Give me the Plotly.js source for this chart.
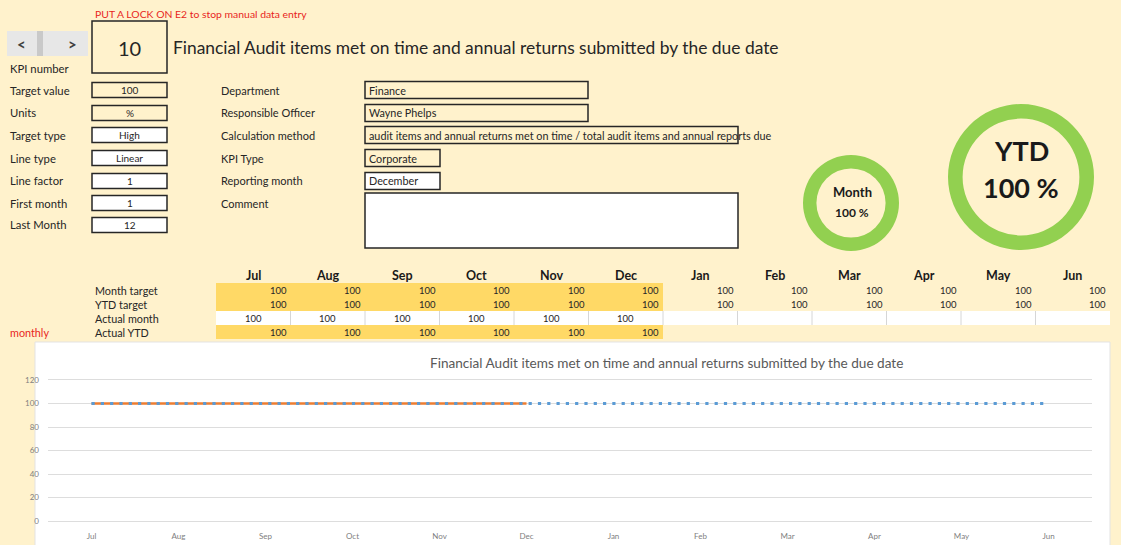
<!DOCTYPE html>
<html lang="en">

<head>
    <meta charset="UTF-8">
    <title>KPI 10 - Financial Audit</title>
    <script src="https://cdn.plot.ly/plotly-3.0.1.min.js" charset="utf-8"></script>
    <style>
        body { margin: 0; background: #FFF2CC; }
    </style>
</head>

<body>
    <div id="plot" style="width: 1121px; height: 545px;"></div>

    <script>
        // sheet data
        const months = ['Jul', 'Aug', 'Sep', 'Oct', 'Nov', 'Dec', 'Jan', 'Feb', 'Mar', 'Apr', 'May', 'Jun'];
        const monthTarget = [100, 100, 100, 100, 100, 100, 100, 100, 100, 100, 100, 100];
        const ytdTarget = [100, 100, 100, 100, 100, 100, 100, 100, 100, 100, 100, 100];
        const actualMonth = [100, 100, 100, 100, 100, 100];
        const actualYtd = [100, 100, 100, 100, 100, 100];

        const kpiNumber = 10;
        const kpiTitle = 'Financial Audit items met on time and annual returns submitted by the due date';
        const fieldLabels = ['Target value', 'Units', 'Target type', 'Line type', 'Line factor', 'First month', 'Last Month'];
        const fieldValues = ['100', '%', 'High', 'Linear', '1', '1', '12'];
        const infoLabels = ['Department', 'Responsible Officer', 'Calculation method', 'KPI Type', 'Reporting month', 'Comment'];
        const infoValues = ['Finance', 'Wayne Phelps',
            'audit items and annual returns met on time / total audit items and annual reports due',
            'Corporate', 'December', ''];
        const monthPct = 100;
        const ytdPct = 100;

        // page is laid out in pixels, converted to paper fractions
        const W = 1121, H = 545;
        const px = x => x / W;
        const py = y => 1 - y / H;
        const FONT = 'Lato, "Open Sans", sans-serif';
        const CREAM = '#FFF2CC';
        const GOLD = '#FFD966';

        const shapes = [];
        const annotations = [];

        function rect(x0, y0, x1, y1, fill, line, lw) {
            shapes.push({
                type: 'rect', xref: 'paper', yref: 'paper', layer: 'below',
                x0: px(x0), x1: px(x1), y0: py(y1), y1: py(y0),
                fillcolor: fill, line: { color: line || 'rgba(0,0,0,0)', width: lw || 0 }
            });
        }

        function text(x, y, t, size, opts) {
            opts = opts || {};
            annotations.push({
                xref: 'paper', yref: 'paper', x: px(x), y: py(y), text: t,
                showarrow: false, xanchor: opts.anchor || 'left', yanchor: 'middle',
                font: { family: FONT, size: size, color: opts.color || '#262626' }
            });
        }

        // header
        text(93, 14, 'PUT A LOCK ON E2 to stop manual data entry', 10.4, { color: '#E8261C' });
        rect(7, 31, 88, 56, '#E7E7E7');
        rect(37, 31, 43, 56, '#C9C9C9');
        text(21, 44, '<b><</b>', 15, { anchor: 'center', color: '#404040' });
        text(72, 44, '<b>></b>', 15, { anchor: 'center', color: '#404040' });
        text(8, 68, 'KPI number', 11.3);
        rect(92, 21, 167, 73, CREAM, '#262626', 1.5);
        text(129.5, 48, String(kpiNumber), 20, { anchor: 'center' });
        text(171, 47, kpiTitle, 17.4);

        // left fields
        const rowY = [90, 113, 135, 158, 181, 203, 225];
        fieldLabels.forEach((lab, i) => {
            text(8, rowY[i], lab, 11.3);
            rect(92, rowY[i] - 7.5, 167, rowY[i] + 7.5, i < 2 ? CREAM : '#FFFFFF', '#262626', 1.5);
            text(129.5, rowY[i], fieldValues[i], 10, { anchor: 'center' });
        });

        // middle fields
        const infoBoxes = [[365, 588, CREAM], [365, 588, CREAM], [365, 738, CREAM], [365, 440, CREAM], [365, 440, '#FFFFFF']];
        infoLabels.forEach((lab, i) => {
            text(219, rowY[i], lab, 11);
            if (i < 5) {
                const b = infoBoxes[i];
                rect(b[0], rowY[i] - 8.5, b[1], rowY[i] + 8.5, b[2], '#262626', 1.5);
                text(367, rowY[i], infoValues[i], 10.8);
            }
        });
        rect(365, 193, 738, 248, '#FFFFFF', '#262626', 1.5);

        // gauges
        const gauges = [
            { pct: monthPct, cx: 851, cy: 203, r: 48, hole: 0.72 },
            { pct: ytdPct, cx: 1021, cy: 177, r: 73, hole: 0.8 }
        ];
        const pies = gauges.map(g => ({
            type: 'pie', values: [g.pct, 100 - g.pct], hole: g.hole, sort: false,
            direction: 'clockwise', rotation: 0,
            marker: { colors: ['#92D050', 'rgba(0,0,0,0)'] },
            textinfo: 'none', hoverinfo: 'skip', showlegend: false,
            domain: { x: [px(g.cx - g.r), px(g.cx + g.r)], y: [py(g.cy + g.r), py(g.cy - g.r)] }
        }));
        text(852, 192, '<b>Month</b>', 13, { anchor: 'center', color: '#1a1a1a' });
        text(852, 212, '<b>' + monthPct + ' %</b>', 12, { anchor: 'center', color: '#1a1a1a' });
        text(1021, 150, '<b>YTD</b>', 27, { anchor: 'center', color: '#1a1a1a' });
        text(1021, 187, '<b>' + ytdPct + ' %</b>', 27, { anchor: 'center', color: '#1a1a1a' });

        // table
        const colX0 = 216, colW = 74.5;
        const tableRows = [['Month target', 290], ['YTD target', 304], ['Actual month', 318], ['Actual YTD', 332]];
        rect(colX0, 283, colX0 + 6 * colW, 311, GOLD);
        rect(colX0, 325, colX0 + 6 * colW, 339, GOLD);
        rect(colX0, 311, colX0 + 12 * colW, 325, '#FFFFFF');
        for (let c = 1; c < 12; c++) {
            shapes.push({
                type: 'line', xref: 'paper', yref: 'paper', layer: 'below',
                x0: px(colX0 + c * colW), x1: px(colX0 + c * colW), y0: py(325), y1: py(311),
                line: { color: '#D6D6D6', width: 1 }
            });
        }
        tableRows.forEach(r => text(93, r[1], r[0], 10.8));
        text(8, 332, 'monthly', 10.8, { color: '#E8261C' });
        months.forEach((m, c) => {
            const left = colX0 + c * colW;
            text(left + colW / 2, 275, '<b>' + m + '</b>', 12.5, { anchor: 'center', color: '#1a1a1a' });
            text(left + colW - 2, 290, String(monthTarget[c]), 9.5, { anchor: 'right' });
            text(left + colW - 2, 304, String(ytdTarget[c]), 9.5, { anchor: 'right' });
            if (c < actualMonth.length) text(left + colW / 2, 318, String(actualMonth[c]), 9.5, { anchor: 'center' });
            if (c < actualYtd.length) text(left + colW - 2, 332, String(actualYtd[c]), 9.5, { anchor: 'right' });
        });

        // chart area
        rect(35, 342, 1110, 548, '#FFFFFF', '#E3E3E3', 1);
        text(666, 363, kpiTitle, 13.6, { anchor: 'center', color: '#595959' });

        const idx = months.map((m, i) => i);
        const actualTrace = {
            x: idx.slice(0, actualYtd.length), y: actualYtd, type: 'scatter', mode: 'lines',
            line: { color: '#ED7D31', width: 2.5 }, showlegend: false, hoverinfo: 'skip'
        };
        const targetTrace = {
            x: idx, y: ytdTarget, type: 'scatter', mode: 'lines',
            line: { color: '#5B9BD5', width: 3.2, dash: '3.2px,6.1px' }, showlegend: false, hoverinfo: 'skip'
        };

        const layout = {
            width: W, height: H,
            margin: { l: 0, r: 0, t: 0, b: 0 },
            paper_bgcolor: CREAM,
            plot_bgcolor: 'rgba(0,0,0,0)',
            font: { family: FONT },
            xaxis: {
                domain: [px(48), px(1092)], range: [-0.5, 11.5],
                tickvals: idx, ticktext: months, showgrid: false, zeroline: false,
                showline: true, mirror: true, linecolor: '#DDDDDD', linewidth: 1,
                ticks: '', ticklabelstandoff: 7, tickfont: { size: 8, color: '#808080' }, fixedrange: true
            },
            yaxis: {
                domain: [py(521), py(380)], range: [0, 120], dtick: 20,
                showgrid: true, gridcolor: '#DDDDDD', gridwidth: 1, zeroline: false,
                ticks: '', ticklabelstandoff: 8, tickfont: { size: 8, color: '#808080' }, fixedrange: true
            },
            shapes: shapes,
            annotations: annotations
        };

        Plotly.newPlot('plot', [actualTrace, targetTrace].concat(pies), layout, { displayModeBar: false, staticPlot: true });
    </script>
</body>

</html>
